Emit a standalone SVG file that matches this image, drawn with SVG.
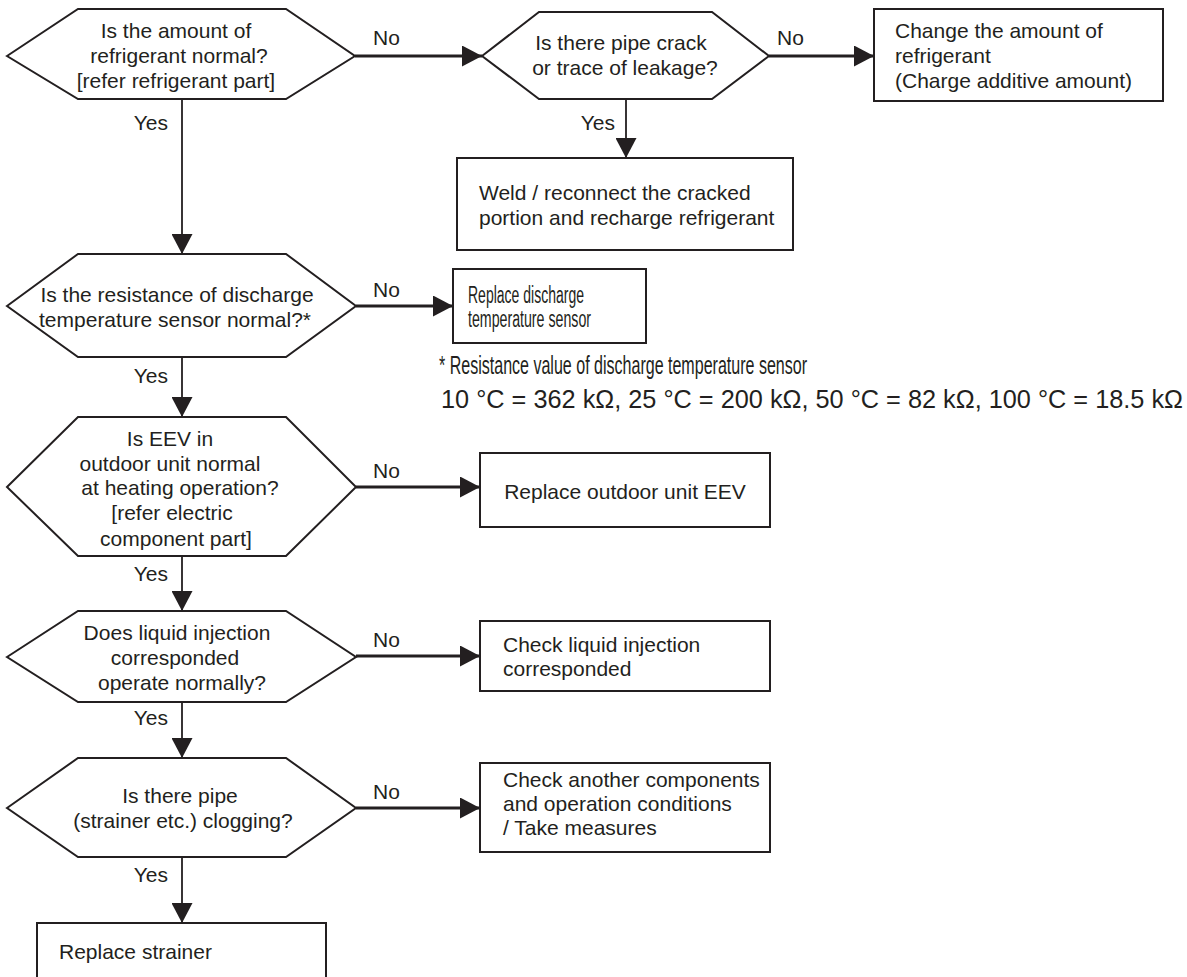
<svg xmlns="http://www.w3.org/2000/svg" width="1187" height="977" viewBox="0 0 1187 977">
<style>
.s{fill:#fff;stroke:#231f20;stroke-width:2}
text{font-family:"Liberation Sans",Arial,sans-serif;font-size:21px;fill:#231f20}
.c{text-anchor:middle}
.e{text-anchor:end}
.n{font-size:23px}
.f{font-size:25px}
.h{stroke:#231f20;stroke-width:3.2;fill:none}
.v{stroke:#231f20;stroke-width:1.8;fill:none}
</style>
<defs>
<marker id="ah" viewBox="0 0 20 21" markerWidth="20" markerHeight="21" refX="20" refY="10.5" orient="auto" markerUnits="userSpaceOnUse">
<path d="M0,0 L20,10.5 L0,21 Z" fill="#231f20"/>
</marker>
</defs>
<rect width="1187" height="977" fill="#fff"/>

<g id="connectors">
<line class="h" x1="355" y1="56" x2="482" y2="56" marker-end="url(#ah)"/>
<line class="h" x1="769" y1="56" x2="874" y2="56" marker-end="url(#ah)"/>
<line class="v" x1="626" y1="99" x2="626" y2="158" marker-end="url(#ah)"/>
<line class="v" x1="182" y1="99" x2="182" y2="254" marker-end="url(#ah)"/>
<line class="h" x1="356" y1="306" x2="453" y2="306" marker-end="url(#ah)"/>
<line class="v" x1="182" y1="357" x2="182" y2="417" marker-end="url(#ah)"/>
<line class="h" x1="356" y1="487" x2="480" y2="487" marker-end="url(#ah)"/>
<line class="v" x1="182" y1="556" x2="182" y2="611" marker-end="url(#ah)"/>
<line class="h" x1="356" y1="656" x2="480" y2="656" marker-end="url(#ah)"/>
<line class="v" x1="182" y1="702" x2="182" y2="758" marker-end="url(#ah)"/>
<line class="h" x1="356" y1="808" x2="480" y2="808" marker-end="url(#ah)"/>
<line class="v" x1="182" y1="857" x2="182" y2="923" marker-end="url(#ah)"/>
<text x="373" y="45">No</text>
<text x="777" y="45">No</text>
<text class="e" x="168" y="130">Yes</text>
<text class="e" x="615" y="130">Yes</text>
<text x="373" y="297">No</text>
<text class="e" x="168" y="383">Yes</text>
<text x="373" y="478">No</text>
<text class="e" x="168" y="581">Yes</text>
<text x="373" y="647">No</text>
<text class="e" x="168" y="725">Yes</text>
<text x="373" y="799">No</text>
<text class="e" x="168" y="882">Yes</text>
</g>

<g id="q1">
<polygon class="s" points="7,56 78,9 286,9 355,56 286,99 78,99"/>
<text class="c" x="176" y="38">Is the amount of</text>
<text class="c" x="179" y="63">refrigerant normal?</text>
<text class="c" x="176" y="88">[refer refrigerant part]</text>
</g>

<g id="q2">
<polygon class="s" points="482,56 539,12 712,12 769,56 712,99 539,99"/>
<text class="c" x="621" y="50">Is there pipe crack</text>
<text class="c" x="625" y="75">or trace of leakage?</text>
</g>

<g id="a1">
<rect class="s" x="874" y="9" width="289" height="92"/>
<text x="895" y="38">Change the amount of</text>
<text x="895" y="63">refrigerant</text>
<text x="895" y="88">(Charge additive amount)</text>
</g>

<g id="a2">
<rect class="s" x="457" y="158" width="336" height="92"/>
<text x="479" y="200">Weld / reconnect the cracked</text>
<text x="479" y="225">portion and recharge refrigerant</text>
</g>

<g id="q3">
<polygon class="s" points="7,306 78,254 286,254 356,306 286,357 78,357"/>
<text class="c" x="177" y="302">Is the resistance of discharge</text>
<text class="c" x="175" y="327">temperature sensor normal?*</text>
</g>

<g id="a3">
<rect class="s" x="453" y="269" width="193" height="74"/>
<text class="n" x="468" y="303" textLength="116" lengthAdjust="spacingAndGlyphs">Replace discharge</text>
<text class="n" x="468" y="327" textLength="123" lengthAdjust="spacingAndGlyphs">temperature sensor</text>
</g>

<g id="note">
<text class="f" x="439" y="374" textLength="368" lengthAdjust="spacingAndGlyphs">* Resistance value of discharge temperature sensor</text>
<text class="f" x="441" y="408" textLength="742" lengthAdjust="spacingAndGlyphs">10 °C = 362 kΩ, 25 °C = 200 kΩ, 50 °C = 82 kΩ, 100 °C = 18.5 kΩ</text>
</g>

<g id="q4">
<polygon class="s" points="7,487 78,417 286,417 356,487 286,556 78,556"/>
<text class="c" x="170" y="446">Is EEV in</text>
<text class="c" x="170" y="471">outdoor unit normal</text>
<text class="c" x="180" y="495">at heating operation?</text>
<text class="c" x="172" y="520">[refer electric</text>
<text class="c" x="176" y="546">component part]</text>
</g>

<g id="a4">
<rect class="s" x="480" y="453" width="290" height="74"/>
<text class="c" x="625" y="499">Replace outdoor unit EEV</text>
</g>

<g id="q5">
<polygon class="s" points="7,657 78,611 286,611 356,657 286,702 78,702"/>
<text class="c" x="177" y="640">Does liquid injection</text>
<text class="c" x="175" y="665">corresponded</text>
<text class="c" x="182" y="690">operate normally?</text>
</g>

<g id="a5">
<rect class="s" x="480" y="621" width="290" height="70"/>
<text x="503" y="652">Check liquid injection</text>
<text x="503" y="676">corresponded</text>
</g>

<g id="q6">
<polygon class="s" points="7,808 78,758 286,758 356,808 286,857 78,857"/>
<text class="c" x="180" y="803">Is there pipe</text>
<text class="c" x="183" y="828">(strainer etc.) clogging?</text>
</g>

<g id="a6">
<rect class="s" x="480" y="763" width="290" height="89"/>
<text x="503" y="787">Check another components</text>
<text x="503" y="811">and operation conditions</text>
<text x="503" y="835">/ Take measures</text>
</g>

<g id="a7">
<rect class="s" x="37" y="923" width="289" height="70"/>
<text x="59" y="959">Replace strainer</text>
</g>
</svg>
